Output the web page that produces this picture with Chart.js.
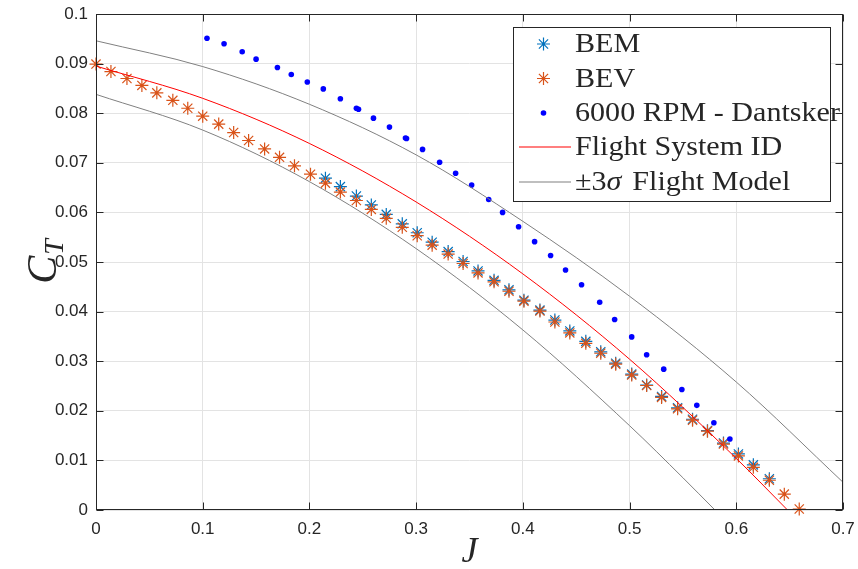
<!DOCTYPE html>
<html>
<head>
<meta charset="utf-8">
<script src="https://cdn.jsdelivr.net/npm/chart.js@4/dist/chart.umd.min.js"></script>
<style>
  html, body { margin: 0; padding: 0; background: #fff; }
  #wrap { width: 858px; height: 569px; }
</style>
</head>
<body>
<div id="wrap"><canvas id="myChart"></canvas></div>
<script>
// advance ratio J and thrust coefficient CT
var jBev = [0, 0.014, 0.029, 0.043, 0.057, 0.072, 0.086, 0.100, 0.115, 0.129, 0.143, 0.158,
  0.172, 0.186, 0.201, 0.215, 0.229, 0.244, 0.258, 0.272, 0.287, 0.301, 0.315, 0.330,
  0.344, 0.358, 0.373, 0.387, 0.401, 0.416, 0.430, 0.444, 0.459, 0.473, 0.487, 0.502,
  0.516, 0.530, 0.545, 0.559, 0.573, 0.588, 0.602, 0.616, 0.631, 0.645, 0.659];
var ctBev = [0.0899, 0.0884, 0.0870, 0.0856, 0.0841, 0.0826, 0.0810, 0.0794, 0.0778, 0.0761,
  0.0745, 0.0728, 0.0711, 0.0694, 0.0677, 0.0659, 0.0641, 0.0624, 0.0606, 0.0588, 0.0570,
  0.0553, 0.0534, 0.0516, 0.0497, 0.0478, 0.0460, 0.0441, 0.0421, 0.0401, 0.0379, 0.0357,
  0.0336, 0.0316, 0.0294, 0.0272, 0.0251, 0.0227, 0.0204, 0.0181, 0.0159, 0.0133, 0.0109,
  0.0086, 0.0060, 0.0032, 0.0002];

var jBem = [0.215, 0.229, 0.244, 0.258, 0.272, 0.287, 0.301, 0.315, 0.330, 0.344, 0.358,
  0.373, 0.387, 0.401, 0.416, 0.430, 0.444, 0.459, 0.473, 0.487, 0.502, 0.516, 0.530,
  0.545, 0.559, 0.573, 0.588, 0.602, 0.616, 0.631];
var ctBem = [0.0669, 0.0652, 0.0633, 0.0615, 0.0596, 0.0577, 0.0559, 0.0540, 0.0521, 0.0501,
  0.0482, 0.0463, 0.0444, 0.0423, 0.0403, 0.0383, 0.0361, 0.0340, 0.0319, 0.0296, 0.0274,
  0.0252, 0.0229, 0.0206, 0.0183, 0.0160, 0.0135, 0.0113, 0.0091, 0.0063];

var jDantsker = [0.104, 0.120, 0.137, 0.150, 0.170, 0.183, 0.198, 0.213, 0.229, 0.244, 0.246,
  0.260, 0.275, 0.290, 0.291, 0.306, 0.322, 0.337, 0.352, 0.368, 0.381, 0.396, 0.411, 0.426,
  0.440, 0.455, 0.472, 0.486, 0.502, 0.516, 0.532, 0.549, 0.563, 0.579, 0.594];
var ctDantsker = [0.0951, 0.0940, 0.0924, 0.0909, 0.0892, 0.0878, 0.0863, 0.0849, 0.0829,
  0.0810, 0.0808, 0.0790, 0.0772, 0.0750, 0.0749, 0.0727, 0.0701, 0.0679, 0.0655, 0.0626,
  0.0600, 0.0571, 0.0541, 0.0513, 0.0484, 0.0454, 0.0419, 0.0384, 0.0349, 0.0313, 0.0284,
  0.0243, 0.0211, 0.0176, 0.0143];

var jFit = [0, 0.1, 0.2, 0.3, 0.4, 0.5, 0.6, 0.648];
var ctFit = [0.0895, 0.0830, 0.0739, 0.0621, 0.0476, 0.0304, 0.0104, 0];

var jUpper = [0, 0.1, 0.2, 0.3, 0.4, 0.5, 0.6, 0.7];
var ctUpper = [0.0946, 0.0894, 0.0818, 0.0716, 0.0582, 0.0431, 0.0258, 0.0056];

var jLower = [0, 0.1, 0.2, 0.3, 0.4, 0.5, 0.55, 0.58];
var ctLower = [0.0838, 0.0766, 0.0662, 0.0527, 0.0363, 0.0170, 0.0065, 0];

var xTickLabels = ["0", "0.1", "0.2", "0.3", "0.4", "0.5", "0.6", "0.7"];
var yTickLabels = ["0", "0.01", "0.02", "0.03", "0.04", "0.05", "0.06", "0.07", "0.08", "0.09", "0.1"];

function pts(xs, ys) {
  return xs.map(function (x, i) { return { x: x, y: ys[i] }; });
}

var axisColor = "#262626";
var serif = "'Liberation Serif', 'Times New Roman', serif";
var tickFont = { family: "'Liberation Sans', Arial, sans-serif", size: 17 };

// draws text, putting the greek sigma in italic like the LaTeX legend
function richText(ctx, text, x, y, size) {
  var parts = text.split("\u03C3");
  var cx = x;
  parts.forEach(function (p, i) {
    ctx.font = size + "px " + serif;
    ctx.fillText(p, cx, y);
    cx += ctx.measureText(p).width;
    if (i < parts.length - 1) {
      ctx.font = "italic " + size + "px " + serif;
      ctx.fillText("\u03C3", cx, y);
      cx += ctx.measureText("\u03C3").width + 3;
    }
  });
}

// MATLAB-like box with inward ticks, axis labels and legend
var matlabAxes = {
  id: "matlabAxes",
  afterDatasetsDraw: function (chart) {
    var ctx = chart.ctx;
    var a = chart.chartArea;
    var xs = chart.scales.x, ys = chart.scales.y;
    var L = Math.round(a.left) + 0.5, R = Math.round(a.right) - 0.5;
    var T = Math.round(a.top) + 0.5, B = Math.round(a.bottom) - 0.5;
    ctx.save();
    ctx.strokeStyle = axisColor;
    ctx.lineWidth = 1;
    ctx.strokeRect(L, T, R - L, B - T);
    var tl = 7;
    ctx.beginPath();
    xs.ticks.forEach(function (t) {
      var px = Math.round(xs.getPixelForValue(t.value)) + 0.5;
      ctx.moveTo(px, B); ctx.lineTo(px, B - tl);
      ctx.moveTo(px, T); ctx.lineTo(px, T + tl);
    });
    ys.ticks.forEach(function (t) {
      var py = Math.round(ys.getPixelForValue(t.value)) + 0.5;
      ctx.moveTo(L, py); ctx.lineTo(L + tl, py);
      ctx.moveTo(R, py); ctx.lineTo(R - tl, py);
    });
    ctx.stroke();

    // axis titles
    ctx.fillStyle = axisColor;
    ctx.textAlign = "center";
    ctx.textBaseline = "middle";
    ctx.font = "italic 36px " + serif;
    ctx.fillText("J", (a.left + a.right) / 2, 553);

    ctx.save();
    ctx.translate(56, (a.top + a.bottom) / 2);
    ctx.rotate(-Math.PI / 2);
    ctx.textAlign = "left";
    ctx.textBaseline = "alphabetic";
    ctx.font = "italic 42px " + serif;
    var cw = ctx.measureText("C").width;
    ctx.font = "italic 28px " + serif;
    var tw = ctx.measureText("T").width;
    var x0 = -(cw + tw) / 2;
    ctx.font = "italic 42px " + serif;
    ctx.fillText("C", x0, 0);
    ctx.font = "italic 28px " + serif;
    ctx.fillText("T", x0 + cw + 1, 7);
    ctx.restore();

    // legend
    var bx = 513.5, by = 27.5, bw = 317, bh = 174;
    ctx.fillStyle = "#fff";
    ctx.fillRect(bx, by, bw, bh);
    ctx.strokeStyle = axisColor;
    ctx.lineWidth = 1;
    ctx.strokeRect(bx, by, bw, bh);
    var rowY = [44, 78.5, 113, 147, 181.5];
    var fs = 27;
    ctx.font = fs + "px " + serif;
    var sx = 265 / ctx.measureText("6000 RPM - Dantsker").width;
    var row = 0;
    chart.data.datasets.forEach(function (d) {
      if (d.hideInLegend) return;
      var y = rowY[row++];
      var mx = 543.5;
      var col = d.legendColor;
      ctx.save();
      if (d.showLine) {
        ctx.strokeStyle = col;
        ctx.lineWidth = 1.1;
        ctx.beginPath();
        ctx.moveTo(519, Math.round(y));
        ctx.lineTo(571, Math.round(y));
        ctx.stroke();
      } else if (d.pointStyle === "star") {
        var r = d.pointRadius;
        ctx.strokeStyle = col;
        ctx.lineWidth = d.pointBorderWidth;
        ctx.beginPath();
        for (var k = 0; k < 4; k++) {
          var ang = k * Math.PI / 4;
          ctx.moveTo(mx - r * Math.cos(ang), y - r * Math.sin(ang));
          ctx.lineTo(mx + r * Math.cos(ang), y + r * Math.sin(ang));
        }
        ctx.stroke();
      } else {
        ctx.fillStyle = col;
        ctx.beginPath();
        ctx.arc(mx, y, d.pointRadius, 0, Math.PI * 2);
        ctx.fill();
      }
      ctx.restore();
      ctx.save();
      ctx.fillStyle = axisColor;
      ctx.textAlign = "left";
      ctx.textBaseline = "middle";
      ctx.translate(575, y + 1);
      ctx.scale(sx, 1);
      richText(ctx, d.label, 0, 0, fs);
      ctx.restore();
    });
    ctx.restore();
  }
};

new Chart("myChart", {
  type: "scatter",
  data: {
    datasets: [
      {
        label: "BEM",
        data: pts(jBem, ctBem),
        pointStyle: "star",
        pointRadius: 6.5,
        pointBorderWidth: 1.2,
        borderColor: "#0072BD",
        backgroundColor: "#0072BD",
        legendColor: "#0072BD",
        clip: false,
        order: 5,
      },
      {
        label: "BEV",
        data: pts(jBev, ctBev),
        pointStyle: "star",
        pointRadius: 6.5,
        pointBorderWidth: 1.2,
        borderColor: "#D95319",
        backgroundColor: "#D95319",
        legendColor: "#D95319",
        clip: false,
        order: 4,
      },
      {
        label: "6000 RPM - Dantsker",
        data: pts(jDantsker, ctDantsker),
        pointStyle: "circle",
        pointRadius: 2.8,
        pointBorderWidth: 0,
        borderColor: "#0000FF",
        backgroundColor: "#0000FF",
        legendColor: "#0000FF",
        clip: false,
        order: 3,
      },
      {
        label: "Flight System ID",
        data: pts(jFit, ctFit),
        showLine: true,
        pointRadius: 0,
        borderWidth: 1,
        borderColor: "#FF0000",
        backgroundColor: "#FF0000",
        legendColor: "#FF0000",
        cubicInterpolationMode: "monotone",
        order: 2,
      },
      {
        label: "\u00B13\u03C3 Flight Model",
        data: pts(jUpper, ctUpper),
        showLine: true,
        pointRadius: 0,
        borderWidth: 1,
        borderColor: "#808080",
        backgroundColor: "#808080",
        legendColor: "#808080",
        cubicInterpolationMode: "monotone",
        order: 1,
      },
      {
        label: "\u00B13\u03C3 Flight Model",
        hideInLegend: true,
        data: pts(jLower, ctLower),
        showLine: true,
        pointRadius: 0,
        borderWidth: 1,
        borderColor: "#808080",
        backgroundColor: "#808080",
        cubicInterpolationMode: "monotone",
        order: 1,
      },
    ],
  },
  options: {
    responsive: true,
    maintainAspectRatio: false,
    animation: false,
    layout: { padding: { top: 14, right: 15, left: 0, bottom: 0 } },
    scales: {
      x: {
        type: "linear",
        min: 0,
        max: 0.7,
        afterFit: function (s) { s.height = 59; s.paddingLeft = 0; s.paddingRight = 0; },
        grid: { color: "#e3e3e3", drawTicks: false },
        border: { display: false },
        ticks: {
          stepSize: 0.1,
          padding: 9,
          color: axisColor,
          font: tickFont,
          maxRotation: 0,
          callback: function (v) { return xTickLabels[Math.round(v * 10)]; },
        },
      },
      y: {
        type: "linear",
        min: 0,
        max: 0.1,
        afterFit: function (s) { s.width = 96; s.paddingTop = 0; s.paddingBottom = 0; },
        grid: { color: "#e3e3e3", drawTicks: false },
        border: { display: false },
        ticks: {
          stepSize: 0.01,
          padding: 8,
          color: axisColor,
          font: tickFont,
          callback: function (v) { return yTickLabels[Math.round(v * 100)]; },
        },
      },
    },
    plugins: {
      legend: { display: false },
      tooltip: { enabled: false },
    },
  },
  plugins: [matlabAxes],
});
</script>
</body>
</html>
